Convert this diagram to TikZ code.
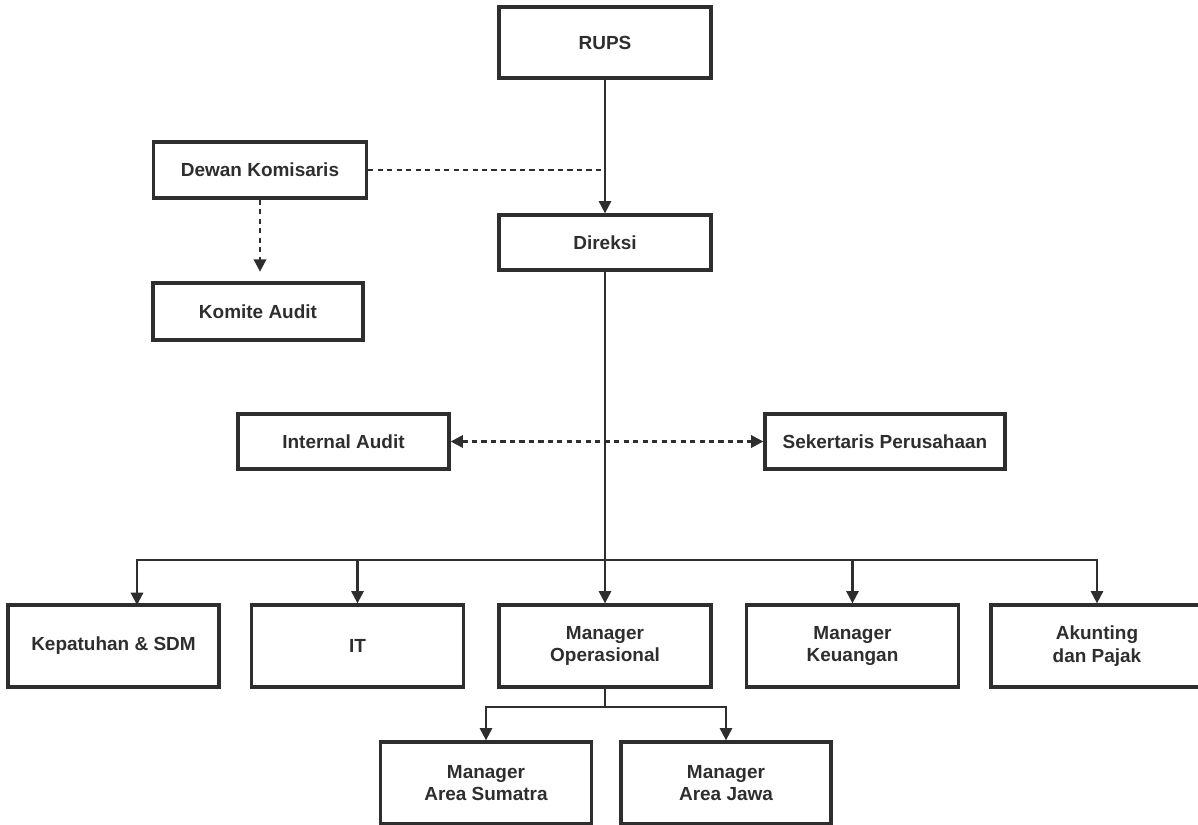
\documentclass[tikz,border=0pt]{standalone}
\usepackage{fontspec}
\setmainfont{Liberation Sans}
\usetikzlibrary{arrows.meta}
\definecolor{ink}{HTML}{2E2E2E}

\begin{document}
\begin{tikzpicture}[x=0.02cm, y=-0.02cm,
		font=\bfseries\fontsize{10.8}{12.8}\selectfont, text=ink,
		box/.style={draw=ink, line width=1.9pt, align=center, inner sep=0pt},
		conn/.style={draw=ink, line width=1.2pt, -{Triangle[width=7pt,length=7pt]}},
		plain/.style={draw=ink, line width=1.2pt},
		dots/.style={draw=ink, line width=1.4pt, dash pattern=on 3pt off 2.4pt}]
		\useasboundingbox (0,0) rectangle (1198,825);
		% top part
		\node[box, minimum width=4.24cm, minimum height=1.42cm] (rups) at (605,42.5) {RUPS};
		\node[box, minimum width=4.24cm, minimum height=1.1cm] (dir) at (605,242.5) {Direksi};
		\node[box, minimum width=4.26cm, minimum height=1.12cm] (dewan) at (260,170) {Dewan Komisaris};
		\node[box, minimum width=4.2cm, minimum height=1.14cm] (komite) at (258,311.5) {Komite Audit};
		\node[box, minimum width=4.22cm, minimum height=1.1cm] (intaud) at (343.5,441.5) {Internal Audit};
		\node[box, minimum width=4.8cm, minimum height=1.1cm] (sek) at (885,441.5) {Sekertaris Perusahaan};
		% bottom row
		\node[box, minimum width=4.22cm, minimum height=1.64cm] (kep) at (113.5,646) {Kepatuhan \& SDM};
		\node[box, minimum width=4.24cm, minimum height=1.64cm] (it) at (357.5,646) {IT};
		\node[box, minimum width=4.24cm, minimum height=1.64cm] (mop) at (605,646) {Manager\\Operasional};
		\node[box, minimum width=4.24cm, minimum height=1.64cm] (mkeu) at (852.5,646) {Manager\\Keuangan};
		\node[box, minimum width=4.24cm, minimum height=1.64cm] (akun) at (1097,646) {Akunting\\dan Pajak};
		\node[box, minimum width=4.22cm, minimum height=1.64cm] (sum) at (486,783) {Manager\\Area Sumatra};
		\node[box, minimum width=4.2cm, minimum height=1.64cm] (jawa) at (726,783) {Manager\\Area Jawa};
		\coordinate (bus) at (605,560);
		\coordinate (kepin) at (137,605);
		\coordinate (split) at (605,707);
		% connectors
		\draw[conn] (rups) -- (dir);
		\draw[dots] (dewan.east) -- (dewan.east -| rups.south);
		\draw[dots, -{Triangle[width=7pt,length=7pt]}, shorten >=5.5pt] (dewan.south) -- (dewan.south |- komite.north);
		\draw[dots, {Triangle[width=7pt,length=7pt]}-{Triangle[width=7pt,length=7pt]}] (intaud) -- (sek);
		\draw[conn] (dir) -- (mop);
		\draw[conn] (bus) -| (kepin);
		\draw[conn] (bus) -| (it.north);
		\draw[conn] (bus) -| (mkeu.north);
		\draw[conn] (bus) -| (akun.north);
		\draw[plain] (mop) -- (split);
		\draw[conn] (split) -| (sum.north);
		\draw[conn] (split) -| (jawa.north);
\end{tikzpicture}
\end{document}
